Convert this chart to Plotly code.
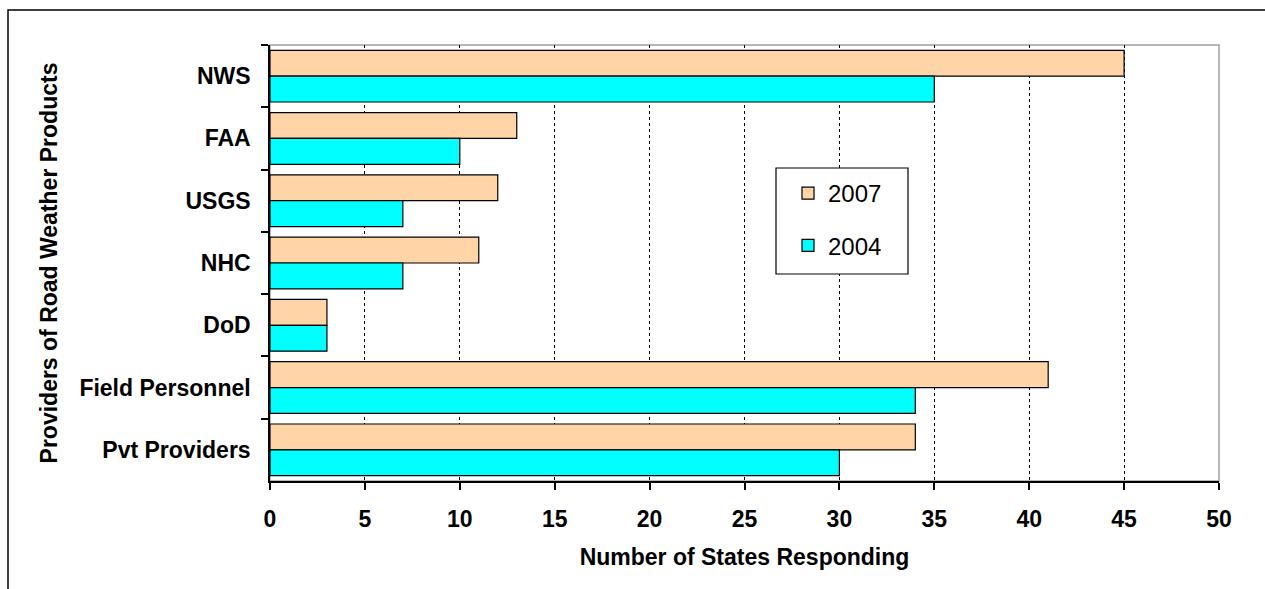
import plotly.graph_objects as go

categories = ["NWS", "FAA", "USGS", "NHC", "DoD", "Field Personnel", "Pvt Providers"]
values_2007 = [45, 13, 12, 11, 3, 41, 34]
values_2004 = [35, 10, 7, 7, 3, 34, 30]
x_ticks = [0, 5, 10, 15, 20, 25, 30, 35, 40, 45, 50]

FONT = "Liberation Sans, Arial, sans-serif"

fig = go.Figure()
fig.add_trace(go.Bar(
    y=categories, x=values_2007, name="2007", orientation="h",
    marker=dict(color="#FFD5A8", line=dict(color="black", width=1.2)),
    legendgroup="a",
))
fig.add_trace(go.Bar(
    y=categories, x=values_2004, name="2004", orientation="h",
    marker=dict(color="#00FFFF", line=dict(color="black", width=1.2)),
    legendgroup="b",
))

W, H = 1265, 589
L, R, T, B = 270, 46, 45, 108
pw = W - L - R
ph = H - T - B

def px_x(p):
    return (p - L) / pw

def px_y(p):
    return (H - B - p) / ph

fig.update_layout(
    width=W, height=H,
    margin=dict(l=L, r=R, t=T, b=B),
    plot_bgcolor="white", paper_bgcolor="white",
    barmode="group", bargap=0.17, bargroupgap=0,
    font=dict(family=FONT, color="black"),
    showlegend=True,
    legend=dict(
        x=px_x(788), y=px_y(171), xanchor="left", yanchor="top",
        bgcolor="rgba(0,0,0,0)", borderwidth=0,
        font=dict(size=24, family=FONT, color="black"),
        traceorder="grouped", tracegroupgap=18,
        itemwidth=30,
    ),
    xaxis=dict(
        range=[0, 50], tickvals=x_ticks, ticktext=[str(v) for v in x_ticks],
        showgrid=True, gridcolor="black", griddash="dot", gridwidth=1,
        showline=True, linecolor="black", linewidth=1.5,
        ticks="outside", ticklen=7, tickcolor="black", tickwidth=1.5,
        tickfont=dict(size=23, family=FONT, color="black", weight="bold"),
        ticklabelstandoff=10,
        zeroline=False,
        title=dict(text="<b>Number of States Responding</b>",
                   font=dict(size=23, family=FONT, color="black"), standoff=18),
    ),
    yaxis=dict(
        categoryorder="array", categoryarray=categories, autorange="reversed",
        showgrid=False,
        showline=True, linecolor="black", linewidth=1.5,
        ticks="outside", ticklen=7, tickcolor="black", tickwidth=1.5,
        tickson="boundaries",
        tickfont=dict(size=23, family=FONT, color="black", weight="bold"),
        ticklabelstandoff=13,
        title=dict(text="<b>Providers of Road Weather Products</b>",
                   font=dict(size=23, family=FONT, color="black"), standoff=15),
    ),
    shapes=[
        dict(type="rect", xref="paper", yref="paper", x0=0, x1=1, y0=0, y1=1,
             line=dict(color="#A0A0A0", width=1.5), layer="below"),
        dict(type="rect", xref="paper", yref="paper",
             x0=px_x(8), x1=px_x(1275), y0=px_y(10), y1=px_y(600),
             line=dict(color="black", width=1.5), layer="below"),
        dict(type="rect", xref="paper", yref="paper",
             x0=px_x(776), x1=px_x(908), y0=px_y(168), y1=px_y(274),
             fillcolor="white", line=dict(color="black", width=1.2), layer="above"),
    ],
)

fig.write_html("out.html")
